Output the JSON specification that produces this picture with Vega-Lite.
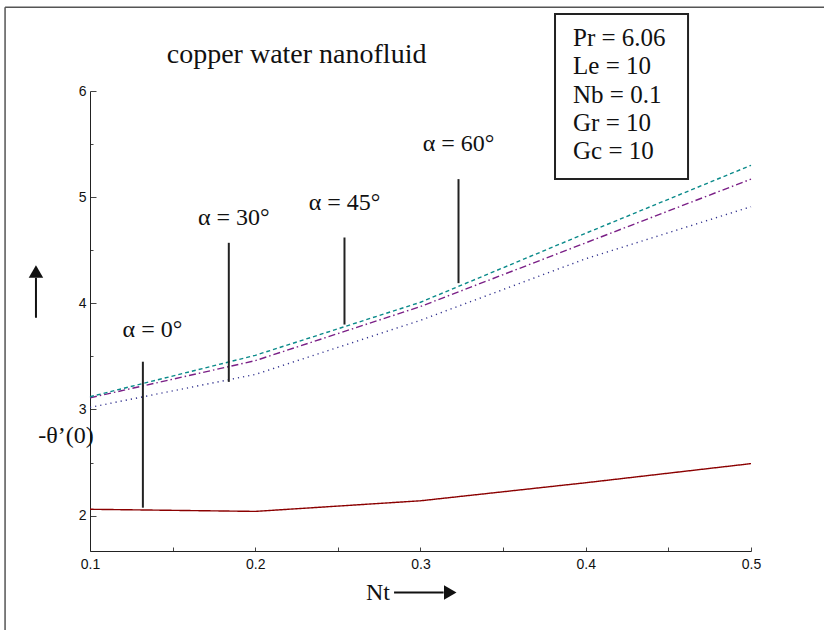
{
  "$schema": "https://vega.github.io/schema/vega-lite/v6.json",
  "width": 661,
  "height": 460,
  "autosize": {"type": "none"},
  "padding": {"left": 90, "top": 91, "right": 73, "bottom": 79},
  "background": "white",
  "config": {"view": {"stroke": null}},
  "datasets": {
    "curves": [
      {"Nt": 0.1, "theta": 2.06, "series": "a0"},
      {"Nt": 0.2, "theta": 2.04, "series": "a0"},
      {"Nt": 0.3, "theta": 2.14, "series": "a0"},
      {"Nt": 0.4, "theta": 2.31, "series": "a0"},
      {"Nt": 0.5, "theta": 2.49, "series": "a0"},
      {"Nt": 0.1, "theta": 3.02, "series": "a30"},
      {"Nt": 0.2, "theta": 3.33, "series": "a30"},
      {"Nt": 0.3, "theta": 3.84, "series": "a30"},
      {"Nt": 0.4, "theta": 4.42, "series": "a30"},
      {"Nt": 0.5, "theta": 4.91, "series": "a30"},
      {"Nt": 0.1, "theta": 3.11, "series": "a45"},
      {"Nt": 0.2, "theta": 3.46, "series": "a45"},
      {"Nt": 0.3, "theta": 3.97, "series": "a45"},
      {"Nt": 0.4, "theta": 4.57, "series": "a45"},
      {"Nt": 0.5, "theta": 5.17, "series": "a45"},
      {"Nt": 0.1, "theta": 3.12, "series": "a60"},
      {"Nt": 0.2, "theta": 3.51, "series": "a60"},
      {"Nt": 0.3, "theta": 4.01, "series": "a60"},
      {"Nt": 0.4, "theta": 4.66, "series": "a60"},
      {"Nt": 0.5, "theta": 5.30, "series": "a60"}
    ],
    "pointers": [
      {"x": 0.132, "top": 3.45, "bottom": 2.075},
      {"x": 0.184, "top": 4.57, "bottom": 3.26},
      {"x": 0.254, "top": 4.62, "bottom": 3.80},
      {"x": 0.323, "top": 5.17, "bottom": 4.19}
    ],
    "alphaLabels": [
      {"x": 0.1378, "y": 3.75, "text": "α = 0°"},
      {"x": 0.187, "y": 4.80, "text": "α = 30°"},
      {"x": 0.254, "y": 4.946, "text": "α = 45°"},
      {"x": 0.323, "y": 5.50, "text": "α = 60°"}
    ],
    "titleText": [
      {"x": 0.225, "y": 6.34, "text": "copper water nanofluid"}
    ],
    "box": [
      {"x": 0.3814, "x2": 0.4619, "y": 6.725, "y2": 5.172}
    ],
    "params": [
      {"x": 0.3923, "y": 6.499, "text": "Pr = 6.06"},
      {"x": 0.3923, "y": 6.235, "text": "Le = 10"},
      {"x": 0.3923, "y": 5.962, "text": "Nb = 0.1"},
      {"x": 0.3923, "y": 5.699, "text": "Gr = 10"},
      {"x": 0.3923, "y": 5.435, "text": "Gc = 10"}
    ],
    "axisTitles": [
      {"x": 0.0855, "y": 2.753, "text": "-θ’(0)"},
      {"x": 0.2743, "y": 1.275, "text": "Nt"}
    ],
    "frame": [
      {"x": 0.0486, "x2": 0.0486, "y": 6.79, "y2": 0.9},
      {"x": 0.0486, "x2": 0.56, "y": 6.79, "y2": 6.79}
    ],
    "arrowShafts": [
      {"x": 0.0673, "x2": 0.0673, "y": 3.864, "y2": 4.24},
      {"x": 0.2840, "x2": 0.3140, "y": 1.275, "y2": 1.275}
    ],
    "arrowHeads": [
      {"x": 0.0673, "y": 4.30, "dir": "up"},
      {"x": 0.3180, "y": 1.275, "dir": "right"}
    ]
  },
  "layer": [
    {
      "data": {"name": "curves"},
      "mark": {"type": "line", "strokeWidth": 1.4},
      "encoding": {
        "x": {
          "field": "Nt", "type": "quantitative",
          "scale": {"domain": [0.1, 0.5], "nice": false, "zero": false},
          "axis": {
            "values": [0.1, 0.15, 0.2, 0.25, 0.3, 0.35, 0.4, 0.45, 0.5],
            "labelExpr": "abs(datum.value*10 - round(datum.value*10)) < 0.01 ? format(datum.value, '.1f') : ''",
            "title": null, "grid": false,
            "domainColor": "#222", "tickColor": "#444", "tickSize": -4,
            "labelFont": "Liberation Sans", "labelFontSize": 14, "labelColor": "#111",
            "labelPadding": 10, "labelFlush": false
          }
        },
        "y": {
          "field": "theta", "type": "quantitative",
          "scale": {"domain": [1.667, 6], "nice": false, "zero": false},
          "axis": {
            "values": [2, 2.5, 3, 3.5, 4, 4.5, 5, 5.5, 6],
            "labelExpr": "datum.value % 1 === 0 ? format(datum.value, 'd') : ''",
            "title": null, "grid": false,
            "domainColor": "#222", "tickColor": "#444",
            "tickSize": {"condition": {"test": "datum.value % 1 === 0", "value": -6}, "value": -3},
            "labelFont": "Liberation Sans", "labelFontSize": 14, "labelColor": "#111",
            "labelPadding": 10, "labelFlush": false
          }
        },
        "detail": {"field": "series"},
        "color": {
          "field": "series", "type": "nominal", "legend": null,
          "scale": {"domain": ["a0", "a30", "a45", "a60"], "range": ["#8b0000", "#33338f", "#7a1f86", "#0a8a8a"]}
        },
        "strokeDash": {
          "field": "series", "type": "nominal", "legend": null,
          "scale": {"domain": ["a0", "a30", "a45", "a60"], "range": [[1, 0], [1.2, 4], [7, 3, 1.5, 3], [4, 3]]}
        }
      }
    },
    {
      "data": {"name": "pointers"},
      "mark": {"type": "rule", "color": "#222", "strokeWidth": 2},
      "encoding": {
        "x": {"field": "x", "type": "quantitative"},
        "y": {"field": "top", "type": "quantitative"},
        "y2": {"field": "bottom"}
      }
    },
    {
      "data": {"name": "alphaLabels"},
      "mark": {"type": "text", "font": "Liberation Serif", "fontSize": 24, "color": "#111", "align": "center", "baseline": "middle"},
      "encoding": {
        "x": {"field": "x", "type": "quantitative"},
        "y": {"field": "y", "type": "quantitative"},
        "text": {"field": "text"}
      }
    },
    {
      "data": {"name": "titleText"},
      "mark": {"type": "text", "font": "Liberation Serif", "fontSize": 28, "color": "#111", "align": "center", "baseline": "middle"},
      "encoding": {
        "x": {"field": "x", "type": "quantitative"},
        "y": {"field": "y", "type": "quantitative"},
        "text": {"field": "text"}
      }
    },
    {
      "data": {"name": "frame"},
      "mark": {"type": "rule", "color": "#555", "strokeWidth": 1.5},
      "encoding": {
        "x": {"field": "x", "type": "quantitative"},
        "x2": {"field": "x2"},
        "y": {"field": "y", "type": "quantitative"},
        "y2": {"field": "y2"}
      }
    },
    {
      "data": {"name": "box"},
      "mark": {"type": "rect", "fill": "white", "stroke": "#222", "strokeWidth": 2},
      "encoding": {
        "x": {"field": "x", "type": "quantitative"},
        "x2": {"field": "x2"},
        "y": {"field": "y", "type": "quantitative"},
        "y2": {"field": "y2"}
      }
    },
    {
      "data": {"name": "params"},
      "mark": {"type": "text", "font": "Liberation Serif", "fontSize": 25, "color": "#111", "align": "left", "baseline": "middle"},
      "encoding": {
        "x": {"field": "x", "type": "quantitative"},
        "y": {"field": "y", "type": "quantitative"},
        "text": {"field": "text"}
      }
    },
    {
      "data": {"name": "axisTitles"},
      "mark": {"type": "text", "font": "Liberation Serif", "fontSize": 24, "color": "#111", "align": "center", "baseline": "middle"},
      "encoding": {
        "x": {"field": "x", "type": "quantitative"},
        "y": {"field": "y", "type": "quantitative"},
        "text": {"field": "text"}
      }
    },
    {
      "data": {"name": "arrowShafts"},
      "mark": {"type": "rule", "color": "#111", "strokeWidth": 2},
      "encoding": {
        "x": {"field": "x", "type": "quantitative"},
        "x2": {"field": "x2"},
        "y": {"field": "y", "type": "quantitative"},
        "y2": {"field": "y2"}
      }
    },
    {
      "data": {"name": "arrowHeads"},
      "mark": {"type": "point", "filled": true, "color": "#111", "size": 210, "opacity": 1},
      "encoding": {
        "x": {"field": "x", "type": "quantitative"},
        "y": {"field": "y", "type": "quantitative"},
        "shape": {
          "field": "dir", "type": "nominal", "legend": null,
          "scale": {"domain": ["up", "right"], "range": ["triangle-up", "triangle-right"]}
        }
      }
    }
  ]
}
